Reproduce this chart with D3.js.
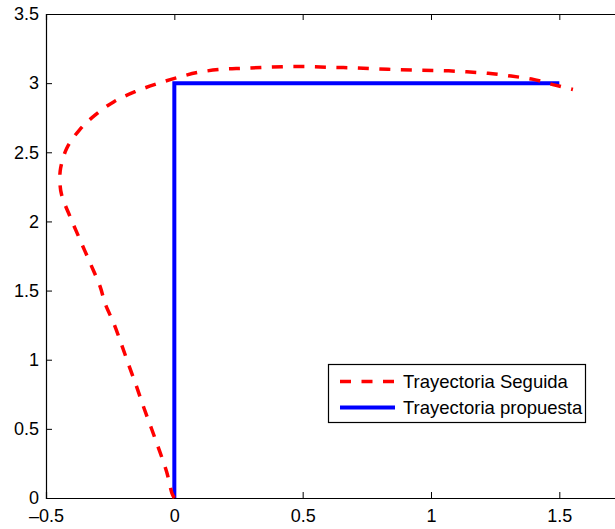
<!DOCTYPE html>
<html>
<head>
<meta charset="utf-8">
<script src="https://cdn.jsdelivr.net/npm/d3@7"></script>
<style>
  body { margin: 0; background: #fff; }
  svg { display: block; }
  text { font-family: "Liberation Sans", Arial, Helvetica, sans-serif; }
</style>
</head>
<body>
<svg id="chart" width="615" height="529"></svg>
<script>
// ---- data ----
const seguidaX = [0, -0.009, -0.030, -0.058, -0.088, -0.118, -0.146, -0.176, -0.205, -0.235, -0.270, -0.289, -0.328, -0.367, -0.406, -0.439, -0.446, -0.443, -0.419, -0.370, -0.309, -0.235, -0.153, -0.075, 0.009, 0.093, 0.185, 0.269, 0.353, 0.440, 0.529, 0.616, 0.701, 0.788, 0.877, 0.964, 1.052, 1.139, 1.223, 1.312, 1.399, 1.483, 1.553];
const seguidaY = [0, 0.034, 0.190, 0.342, 0.497, 0.649, 0.800, 0.954, 1.106, 1.258, 1.408, 1.528, 1.699, 1.865, 2.034, 2.191, 2.292, 2.386, 2.529, 2.661, 2.769, 2.866, 2.938, 2.991, 3.039, 3.078, 3.100, 3.107, 3.114, 3.119, 3.119, 3.114, 3.111, 3.104, 3.097, 3.093, 3.090, 3.082, 3.071, 3.051, 3.027, 2.986, 2.954];
const propuestaX = [0, 0, 1.5];
const propuestaY = [0, 3, 3];
const xTicks = [-0.5, 0, 0.5, 1, 1.5];
const yTicks = [0, 0.5, 1, 1.5, 2, 2.5, 3, 3.5];
const seriesNames = ["Trayectoria Seguida", "Trayectoria propuesta"];

// ---- layout ----
const svg = d3.select("#chart");
const mLeft = 46, mTop = 14, mBottom = 498;
const x = d3.scaleLinear().domain([-0.5, 2]).range([mLeft, mLeft + 5 * 128.33]);
const y = d3.scaleLinear().domain([0, 3.5]).range([mBottom, mTop]);
const fmt = d => (d < 0 ? "\u2013" + Math.abs(d) : String(d));

// axes
const gx = svg.append("g").attr("transform", `translate(0,${mBottom})`)
  .call(d3.axisBottom(x).tickValues(xTicks).tickSize(-6).tickPadding(14).tickFormat(fmt));
const gxTop = svg.append("g").attr("transform", `translate(0,${mTop})`)
  .call(d3.axisTop(x).tickValues(xTicks).tickSize(-6).tickFormat(""));
const gy = svg.append("g").attr("transform", `translate(${mLeft},0)`)
  .call(d3.axisLeft(y).tickValues(yTicks).tickSize(-6).tickPadding(7).tickFormat(d3.format("")));
[gx, gxTop, gy].forEach(g => {
  g.select(".domain").attr("stroke", "#000").attr("stroke-width", 1.2);
  g.selectAll(".tick line").attr("stroke", "#000").attr("stroke-width", 1);
  g.selectAll("text").attr("fill", "#000").style("font-size", "18px");
});
gx.selectAll("text").attr("dy", "0.55em");

// lines
const line = d3.line().x(d => x(d[0])).y(d => y(d[1]));
svg.append("path")
  .datum(propuestaX.map((v, i) => [v, propuestaY[i]]))
  .attr("d", line).attr("fill", "none").attr("stroke", "#0000ff").attr("stroke-width", 4);
svg.append("path")
  .datum(seguidaX.map((v, i) => [v, seguidaY[i]]))
  .attr("d", d3.line().curve(d3.curveCatmullRom).x(d => x(d[0])).y(d => y(d[1])))
  .attr("fill", "none").attr("stroke", "#ff0000").attr("stroke-width", 3.5)
  .attr("stroke-dasharray", "11,10.5");

// legend
const lg = svg.append("g");
lg.append("rect").attr("x", 328.5).attr("y", 364.5).attr("width", 257).attr("height", 58)
  .attr("fill", "#fff").attr("stroke", "#000").attr("stroke-width", 1.2);
const styles = [{c: "#ff0000", w: 3.5, dash: "11,10.5"}, {c: "#0000ff", w: 4, dash: null}];
seriesNames.forEach((name, i) => {
  const yy = 381.5 + i * 26;
  lg.append("line").attr("x1", 340).attr("x2", 395).attr("y1", yy).attr("y2", yy)
    .attr("stroke", styles[i].c).attr("stroke-width", styles[i].w)
    .attr("stroke-dasharray", styles[i].dash);
  lg.append("text").attr("x", 403).attr("y", yy + 6.5).text(name)
    .style("font-size", "18.5px").attr("fill", "#000");
});
</script>
</body>
</html>
